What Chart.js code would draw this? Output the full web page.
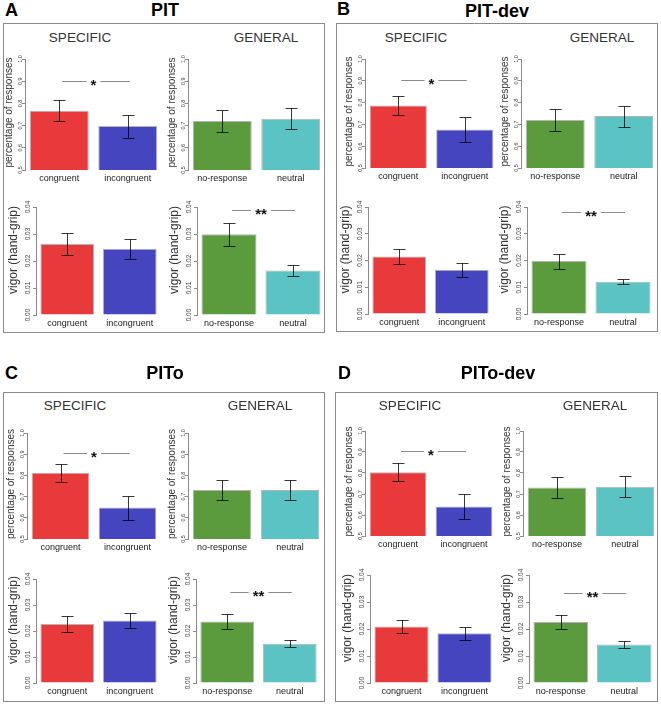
<!DOCTYPE html>
<html>
<head>
<meta charset="utf-8">
<script src="https://cdn.jsdelivr.net/npm/chart.js@4.4.0/dist/chart.umd.min.js"></script>
<style>
  body { margin: 0; background: #fff; }
  #fig { position: relative; width: 661px; height: 705px; font-family: "Liberation Sans", Arial, sans-serif; }
  .box { position: absolute; border: 1px solid #8a8a8a; box-sizing: border-box; }
  .letter { position: absolute; font-weight: bold; font-size: 18px; line-height: 18px; transform: translateY(-50%); }
  .title { position: absolute; font-weight: bold; font-size: 18px; line-height: 18px; transform: translate(-50%, -50%); white-space: nowrap; }
  .sub { position: absolute; font-size: 13.5px; color: #333; transform: translate(-50%, -50%); }
  canvas { position: absolute; }
</style>
</head>
<body>
<div id="fig"></div>
<script>
// ---- data ----
const specLabels = ['congruent', 'incongruent'];
const genLabels = ['no-response', 'neutral'];
const panelLetters = ['A', 'B', 'C', 'D'];
const panelTitles = ['PIT', 'PIT-dev', 'PITo', 'PITo-dev'];

// percentage of responses (mean, half error bar)
const pitPercSpec = [0.767, 0.698],      pitPercSpecErr = [0.048, 0.052];
const pitPercGen = [0.721, 0.731],       pitPercGenErr = [0.050, 0.047];
const pitDevPercSpec = [0.787, 0.677],   pitDevPercSpecErr = [0.044, 0.057];
const pitDevPercGen = [0.720, 0.738],    pitDevPercGenErr = [0.050, 0.048];
const pitoPercSpec = [0.812, 0.648],     pitoPercSpecErr = [0.042, 0.057];
const pitoPercGen = [0.731, 0.731],      pitoPercGenErr = [0.048, 0.048];
const pitoDevPercSpec = [0.804, 0.640],  pitoDevPercSpecErr = [0.043, 0.060];
const pitoDevPercGen = [0.731, 0.735],   pitoDevPercGenErr = [0.051, 0.050];

// vigor (hand-grip)
const pitVigSpec = [0.0263, 0.0245],     pitVigSpecErr = [0.0039, 0.0037];
const pitVigGen = [0.0299, 0.0165],      pitVigGenErr = [0.0042, 0.0020];
const pitDevVigSpec = [0.0215, 0.0165],  pitDevVigSpecErr = [0.0029, 0.0025];
const pitDevVigGen = [0.0198, 0.0121],   pitDevVigGenErr = [0.0028, 0.0010];
const pitoVigSpec = [0.0227, 0.0240],    pitoVigSpecErr = [0.0030, 0.0030];
const pitoVigGen = [0.0237, 0.0151],     pitoVigGenErr = [0.0030, 0.0013];
const pitoDevVigSpec = [0.0209, 0.0184], pitoDevVigSpecErr = [0.0025, 0.0024];
const pitoDevVigGen = [0.0226, 0.0143],  pitoDevVigGenErr = [0.0027, 0.0013];

// significance bars: level and marker
const percSigLevel = [0.9, 0.905, 0.905, 0.903];
const vigSigLevel = [0.039, 0.038, 0.0349, 0.0334];

const specColors = ['#E8393B', '#4545C0'];
const genColors = ['#5B9B3D', '#5BC3C3'];

// ---- layout (pixels in the 661x705 figure) ----
const boxes = [[3, 23, 325, 333], [336, 23, 658, 332], [3, 392, 325, 702], [335, 392, 658, 702]];
const letterPos = [[5, 10], [337, 9], [5, 373], [338, 373]];
const titlePos = [[165, 10], [497, 11], [165, 373], [498, 373]];
const subPos = [[[80, 37], [266, 37]], [[416, 37], [602, 37]], [[75, 405], [260, 405]], [[410, 405], [595, 405]]];
// [axisX, lastBarRight, yTop, yBottom] for TL, TR, BL, BR
const geo = [
  [[25, 158, 59, 170], [188, 321, 59, 170], [36, 157, 207, 315], [197, 321, 207, 315]],
  [[365, 494, 59, 168], [521, 654, 59, 168], [368, 489, 207, 314], [527, 651, 207, 314]],
  [[27, 157, 433, 539], [188, 320, 433, 539], [36, 157, 579, 683], [196, 317, 579, 683]],
  [[365, 493, 431, 536], [523, 655, 431, 536], [370, 492, 575, 683], [529, 652, 575, 683]]
];

const FONT = '"Liberation Sans", Arial, sans-serif';
const YW = 40, PADT = 10, PADR = 3, XH = 22;

const extras = {
  id: 'extras',
  afterDatasetsDraw(chart) {
    const o = chart.options.plugins.extras;
    const xs = chart.scales.x, ys = chart.scales.y, ctx = chart.ctx;
    const means = chart.data.datasets[0].data;
    ctx.save();
    // error bars
    ctx.strokeStyle = 'rgba(0,0,0,0.78)';
    ctx.lineWidth = 1;
    means.forEach((m, i) => {
      const px = Math.round(xs.getPixelForValue(i)) + 0.5;
      const hi = Math.round(ys.getPixelForValue(m + o.errs[i])) + 0.5;
      const lo = Math.round(ys.getPixelForValue(m - o.errs[i])) + 0.5;
      ctx.beginPath();
      ctx.moveTo(px, hi); ctx.lineTo(px, lo);
      ctx.moveTo(px - 6, hi); ctx.lineTo(px + 6, hi);
      ctx.moveTo(px - 6, lo); ctx.lineTo(px + 6, lo);
      ctx.stroke();
    });
    // y tick labels, rotated like R
    ctx.fillStyle = '#444';
    ctx.font = o.tickSize + 'px ' + FONT;
    ctx.textAlign = 'center';
    ctx.textBaseline = 'middle';
    ys.ticks.forEach(t => {
      const py = ys.getPixelForValue(t.value);
      ctx.save();
      ctx.translate(ys.right - o.tickOff, py);
      ctx.rotate(-Math.PI / 2);
      ctx.fillText(t.value.toFixed(o.digits), 0, 0);
      ctx.restore();
    });
    // y title
    ctx.fillStyle = '#333';
    ctx.font = o.titleSize + 'px ' + FONT;
    ctx.save();
    ctx.translate(ys.right - o.titleOff, (ys.top + ys.bottom) / 2 + o.titleShift);
    ctx.rotate(-Math.PI / 2);
    ctx.fillText(o.title, 0, 0);
    ctx.restore();
    // significance marker
    if (o.sig) {
      const x0 = xs.getPixelForValue(0), x1 = xs.getPixelForValue(1);
      const mid = (x0 + x1) / 2;
      const py = Math.round(ys.getPixelForValue(o.sigLevel)) + 0.5;
      ctx.font = 'bold 15px ' + FONT;
      const half = ctx.measureText(o.sig).width / 2 + 4;
      ctx.strokeStyle = '#8a8a8a';
      ctx.lineWidth = 1.2;
      ctx.beginPath();
      ctx.moveTo(x0 + 3, py); ctx.lineTo(mid - half, py);
      ctx.moveTo(mid + half, py); ctx.lineTo(x1 + 2, py);
      ctx.stroke();
      ctx.fillStyle = '#111';
      ctx.fillText(o.sig, mid, py + 4);
    }
    ctx.restore();
  }
};

const fig = document.getElementById('fig');

function addDiv(cls, text, x, y, w, h) {
  const d = document.createElement('div');
  d.className = cls;
  d.textContent = text;
  d.style.left = x + 'px';
  d.style.top = y + 'px';
  if (w) { d.style.width = w + 'px'; d.style.height = h + 'px'; }
  fig.appendChild(d);
}

function makeChart(g, labels, means, errs, colors, kind, sig, sigLevel) {
  const [ax, lastR, yTop, yBot] = g;
  const right = lastR + 4;
  const left = ax - YW;
  const cv = document.createElement('canvas');
  const w = right + PADR - left, h = yBot - yTop + PADT + XH;
  cv.width = w; cv.height = h;
  cv.style.left = left + 'px';
  cv.style.top = (yTop - PADT) + 'px';
  cv.style.width = w + 'px';
  cv.style.height = h + 'px';
  fig.appendChild(cv);
  const perc = kind === 'perc';
  new Chart(cv.getContext('2d'), {
    type: 'bar',
    data: {
      labels: labels,
      datasets: [{
        data: means,
        backgroundColor: colors,
        borderColor: 'rgba(40,40,40,0.35)',
        borderWidth: 1,
        barPercentage: 0.86,
        categoryPercentage: 1
      }]
    },
    options: {
      responsive: false,
      animation: false,
      devicePixelRatio: 1,
      layout: { padding: { top: PADT, right: PADR, left: 0, bottom: 0 } },
      plugins: {
        legend: { display: false },
        tooltip: { enabled: false },
        extras: {
          errs: errs,
          digits: perc ? 1 : 2,
          tickSize: perc ? 5.5 : 6.5,
          tickOff: perc ? 5 : 8,
          title: perc ? 'percentage of responses' : 'vigor (hand-grip)',
          titleSize: perc ? 10 : 12,
          titleOff: perc ? 16 : 22,
          titleShift: perc ? -2 : -11,
          sig: sig,
          sigLevel: sigLevel
        }
      },
      scales: {
        x: {
          grid: { display: false, drawTicks: false },
          border: { display: false },
          ticks: { padding: 3, color: '#222', font: { size: 9, family: FONT }, maxRotation: 0, autoSkip: false },
          afterFit(s) { s.height = XH; }
        },
        y: {
          min: perc ? 0.5 : 0,
          max: perc ? 1.0 : 0.04,
          ticks: { stepSize: perc ? 0.1 : 0.01, display: false },
          grid: { drawOnChartArea: false, drawTicks: true, tickLength: 3, color: '#8a8a8a' },
          border: { display: true, color: '#8a8a8a' },
          afterFit(s) { s.width = YW; }
        }
      }
    },
    plugins: [extras]
  });
}

const percSpec = [pitPercSpec, pitDevPercSpec, pitoPercSpec, pitoDevPercSpec];
const percSpecErr = [pitPercSpecErr, pitDevPercSpecErr, pitoPercSpecErr, pitoDevPercSpecErr];
const percGen = [pitPercGen, pitDevPercGen, pitoPercGen, pitoDevPercGen];
const percGenErr = [pitPercGenErr, pitDevPercGenErr, pitoPercGenErr, pitoDevPercGenErr];
const vigSpec = [pitVigSpec, pitDevVigSpec, pitoVigSpec, pitoDevVigSpec];
const vigSpecErr = [pitVigSpecErr, pitDevVigSpecErr, pitoVigSpecErr, pitoDevVigSpecErr];
const vigGen = [pitVigGen, pitDevVigGen, pitoVigGen, pitoDevVigGen];
const vigGenErr = [pitVigGenErr, pitDevVigGenErr, pitoVigGenErr, pitoDevVigGenErr];

for (let p = 0; p < 4; p++) {
  const b = boxes[p];
  addDiv('box', '', b[0], b[1], b[2] - b[0], b[3] - b[1]);
  addDiv('letter', panelLetters[p], letterPos[p][0], letterPos[p][1]);
  addDiv('title', panelTitles[p], titlePos[p][0], titlePos[p][1]);
  addDiv('sub', 'SPECIFIC', subPos[p][0][0], subPos[p][0][1]);
  addDiv('sub', 'GENERAL', subPos[p][1][0], subPos[p][1][1]);
  const g = geo[p];
  makeChart(g[0], specLabels, percSpec[p], percSpecErr[p], specColors, 'perc', '*', percSigLevel[p]);
  makeChart(g[1], genLabels, percGen[p], percGenErr[p], genColors, 'perc', null, 0);
  makeChart(g[2], specLabels, vigSpec[p], vigSpecErr[p], specColors, 'vig', null, 0);
  makeChart(g[3], genLabels, vigGen[p], vigGenErr[p], genColors, 'vig', '**', vigSigLevel[p]);
}
</script>
</body>
</html>
